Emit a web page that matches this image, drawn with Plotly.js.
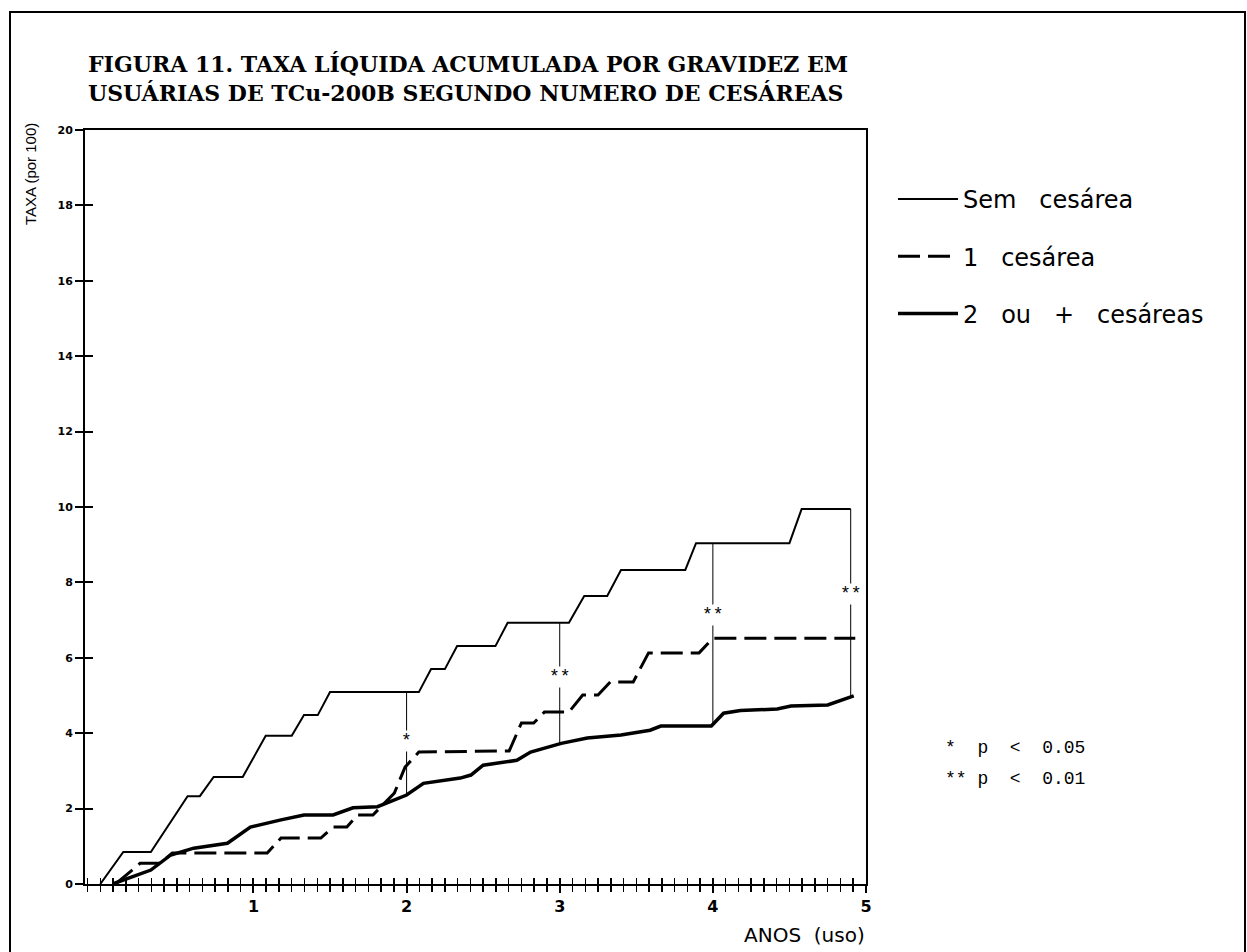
<!DOCTYPE html>
<html>
<head>
<meta charset="utf-8">
<script src="https://cdn.plot.ly/plotly-3.0.1.min.js"></script>
<style>html,body{margin:0;padding:0;background:#fff;}#chart{width:1247px;height:952px;}</style>
</head>
<body>
<div id="chart"></div>
<script>
// ---- data (years of use vs cumulative net pregnancy rate per 100) ----
const semX = [0, 0.15, 0.33, 0.57, 0.65, 0.74, 0.93, 1.08, 1.25, 1.33, 1.42, 1.50, 2.08, 2.16, 2.25, 2.33, 2.58, 2.66, 3.06, 3.16, 3.31, 3.40, 3.82, 3.89, 4.50, 4.58, 4.90];
const semY = [0, 0.85, 0.85, 2.33, 2.33, 2.84, 2.84, 3.93, 3.93, 4.48, 4.48, 5.09, 5.09, 5.70, 5.70, 6.31, 6.31, 6.93, 6.93, 7.64, 7.64, 8.33, 8.33, 9.04, 9.04, 9.95, 9.95];

const umX = [0.10, 0.26, 0.39, 0.47, 1.09, 1.18, 1.44, 1.52, 1.61, 1.68, 1.78, 1.92, 1.99, 2.08, 2.67, 2.75, 2.83, 2.90, 3.06, 3.15, 3.25, 3.33, 3.48, 3.58, 3.91, 4.00, 4.93];
const umY = [0, 0.55, 0.55, 0.82, 0.82, 1.22, 1.22, 1.51, 1.51, 1.83, 1.83, 2.41, 3.10, 3.50, 3.53, 4.27, 4.27, 4.56, 4.56, 5.01, 5.01, 5.36, 5.36, 6.13, 6.13, 6.52, 6.52];

const doisX = [0.08, 0.33, 0.46, 0.61, 0.83, 0.98, 1.18, 1.33, 1.52, 1.65, 1.81, 2.00, 2.11, 2.35, 2.42, 2.50, 2.72, 2.81, 3.01, 3.18, 3.40, 3.59, 3.66, 3.99, 4.07, 4.18, 4.42, 4.51, 4.75, 4.92];
const doisY = [0, 0.37, 0.77, 0.95, 1.08, 1.51, 1.70, 1.83, 1.83, 2.02, 2.05, 2.36, 2.67, 2.81, 2.89, 3.15, 3.28, 3.50, 3.73, 3.87, 3.95, 4.08, 4.19, 4.19, 4.53, 4.60, 4.64, 4.72, 4.75, 4.99];

// comparisons between "Sem cesárea" and "2 ou + cesáreas"
const compX = [2, 3, 4, 4.9];
const compTop = [5.09, 6.93, 9.04, 9.95];
const compBottom = [2.36, 3.73, 4.19, 4.99];
const compStarY = [3.79, 5.49, 7.14, 7.70];
const compStars = ['*', '**', '**', '**'];

const seriesNames = ['Sem   cesárea', '1   cesárea', '2   ou   +   cesáreas'];
const yTicks = [0, 2, 4, 6, 8, 10, 12, 14, 16, 18, 20];
const xTicks = [1, 2, 3, 4, 5];
const sigLines = ['*  p  <  0.05', '** p  <  0.01'];

const titleText = 'FIGURA 11. TAXA LÍQUIDA ACUMULADA POR GRAVIDEZ EM<br>USUÁRIAS DE TCu-200B SEGUNDO NUMERO DE CESÁREAS';

// ---- traces ----
const compLX = [], compLY = [];
compX.forEach((x, i) => { compLX.push(x, x, null); compLY.push(compTop[i], compBottom[i], null); });

const traces = [
  {x: compLX, y: compLY, xaxis: 'x2', yaxis: 'y2', mode: 'lines', line: {color: '#000', width: 1}, showlegend: false, hoverinfo: 'skip'},
  {x: semX, y: semY, name: seriesNames[0], legendgroup: 'a', mode: 'lines', line: {color: '#000', width: 2}},
  {x: umX, y: umY, name: seriesNames[1], legendgroup: 'b', mode: 'lines', line: {color: '#000', width: 3, dash: '22px,8px'}},
  {x: doisX, y: doisY, name: seriesNames[2], legendgroup: 'c', mode: 'lines', line: {color: '#000', width: 3.5}}
];

// pixel helpers for paper placement (plot area: x 85..866, y 130..884)
const L = 85, R = 866, T = 130, B = 884;
const px = v => (v - L) / (R - L);
const py = v => (B - v) / (B - T);

const annotations = [];
compX.forEach((x, i) => {
  annotations.push({x: x, y: compStarY[i], xref: 'x', yref: 'y', text: compStars[i], showarrow: false,
    font: {family: 'Liberation Mono', size: 18, color: '#000'}, bgcolor: '#fff', borderpad: 0});
});
annotations.push({x: px(31), y: py(174), xref: 'paper', yref: 'paper', xanchor: 'center', yanchor: 'middle',
  text: 'TAXA (por 100)', textangle: -90,
  showarrow: false, font: {family: 'Liberation Sans', size: 15, color: '#000'}});
annotations.push({x: px(867), y: py(935), xref: 'paper', yref: 'paper', text: 'ANOS  (uso)', xanchor: 'right', yanchor: 'middle',
  showarrow: false, font: {family: 'DejaVu Sans', size: 20, color: '#000'}});
sigLines.forEach((t, i) => {
  annotations.push({x: px(943), y: py(748 + 31 * i), xref: 'paper', yref: 'paper', text: t, xanchor: 'left', yanchor: 'middle',
    showarrow: false, font: {family: 'Liberation Mono', size: 18, color: '#000'}});
});

const axisCommon = {showgrid: false, zeroline: false, color: '#000'};

const layout = {
  width: 1247, height: 952,
  paper_bgcolor: '#fff', plot_bgcolor: '#fff',
  margin: {l: L, r: 1247 - R, t: T, b: 952 - B},
  title: {text: titleText, x: 88 / 1247, xanchor: 'left', xref: 'container', y: 1 - 72 / 952, yanchor: 'top', yref: 'container',
    font: {family: 'DejaVu Serif', size: 22, weight: 'bold', color: '#000'}},
  xaxis: Object.assign({}, axisCommon, {range: [-0.1, 5], tickvals: xTicks, ticktext: xTicks.map(String),
    ticks: 'outside', ticklen: 7, tickwidth: 2, tickcolor: '#000', showline: true, linewidth: 2, linecolor: '#000', mirror: true,
    tickfont: {family: 'DejaVu Sans', size: 16, weight: 'bold', color: '#000'},
    minor: {dtick: 1 / 12, tick0: 0, ticks: 'outside', ticklen: 6, tickwidth: 1.5, tickcolor: '#000'}}),
  yaxis: Object.assign({}, axisCommon, {range: [0, 20], tickvals: yTicks, ticktext: yTicks.map(String),
    ticks: 'outside', ticklen: 8, tickwidth: 2, tickcolor: '#000', showline: true, linewidth: 2, linecolor: '#000', mirror: true,
    tickfont: {family: 'DejaVu Sans', size: 11, weight: 'bold', color: '#000'}}),
  xaxis2: {overlaying: 'x', matches: 'x', range: [-0.1, 5], anchor: 'y2', showgrid: false, zeroline: false, showticklabels: false,
    tickvals: xTicks, ticks: 'inside', ticklen: 6, tickwidth: 2, tickcolor: '#000', side: 'bottom',
    minor: {dtick: 1 / 12, tick0: 0, ticks: 'inside', ticklen: 6, tickwidth: 1.5, tickcolor: '#000'}},
  yaxis2: {overlaying: 'y', matches: 'y', range: [0, 20], anchor: 'x2', showgrid: false, zeroline: false, showticklabels: false,
    tickvals: yTicks, ticks: 'inside', ticklen: 8, tickwidth: 2, tickcolor: '#000', side: 'left'},
  showlegend: true,
  legend: {x: px(893), y: py(177), xanchor: 'left', yanchor: 'top', bgcolor: 'rgba(0,0,0,0)', borderwidth: 0,
    font: {family: 'DejaVu Sans', size: 24, color: '#000'}, itemwidth: 60, tracegroupgap: 23, traceorder: 'grouped'},
  annotations: annotations,
  shapes: [
    {type: 'rect', xref: 'paper', yref: 'paper', x0: px(10), x1: px(1245), y0: py(970), y1: py(12),
      line: {color: '#000', width: 2}, fillcolor: 'rgba(0,0,0,0)', layer: 'below'}
  ]
};

Plotly.newPlot('chart', traces, layout, {displayModeBar: false, staticPlot: true});
</script>
</body>
</html>
